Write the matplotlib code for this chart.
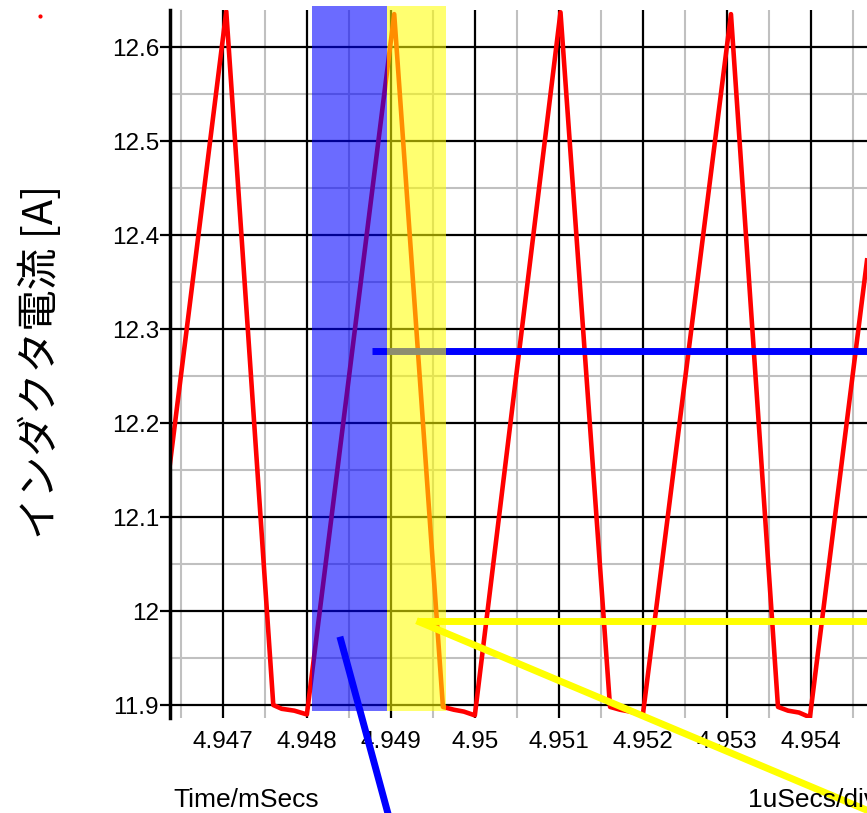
import matplotlib.pyplot as plt
from matplotlib.lines import Line2D

# 波形の折れ点 (Time/mSecs, A)
t_ms = [4.94637, 4.94704, 4.94760, 4.94770, 4.94785, 4.94800,
        4.94904, 4.94962, 4.94975, 4.94987, 4.95000,
        4.95102, 4.95161, 4.95173, 4.95185, 4.95200,
        4.95305, 4.95361, 4.95373, 4.95386, 4.95399, 4.95467]
i_L = [12.157, 12.638, 11.900, 11.896, 11.894, 11.890,
       12.635, 11.898, 11.895, 11.893, 11.889,
       12.637, 11.898, 11.895, 11.893, 11.889,
       12.635, 11.898, 11.894, 11.892, 11.887, 12.373]

x_ticks = [4.947, 4.948, 4.949, 4.950, 4.951, 4.952, 4.953, 4.954]
x_labels = ['4.947', '4.948', '4.949', '4.95', '4.951', '4.952', '4.953', '4.954']
x_minor = [4.9465, 4.9475, 4.9485, 4.9495, 4.9505, 4.9515, 4.9525, 4.9535, 4.9545]
y_ticks = [11.9, 12.0, 12.1, 12.2, 12.3, 12.4, 12.5, 12.6]
y_labels = ['11.9', '12', '12.1', '12.2', '12.3', '12.4', '12.5', '12.6']
y_minor = [11.95, 12.05, 12.15, 12.25, 12.35, 12.45, 12.55]

# 区間と注釈線
blue_span = (4.94806, 4.94895)
yellow_span = (4.94895, 4.94966)
blue_level = 12.2766
blue_level_start = 4.94877
yellow_level = 11.9897
yellow_level_start = 4.949306
blue_diag_t = [4.948393, 4.949019]
blue_diag_v = [11.9727, 11.767]
yellow_diag_t = [4.949306, 4.95506]
yellow_diag_v = [11.9897, 11.7734]

plt.rcParams['font.family'] = ['Liberation Sans', 'DejaVu Sans']

fig = plt.figure(figsize=(8.67, 8.13), dpi=100)
ax = fig.add_axes([170 / 867, 95 / 813, 697 / 867, 708 / 813])

ax.set_xlim(4.94637, 4.95467)
ax.set_ylim(11.8862, 12.6394)

# グリッド
for x in x_minor:
    ax.axvline(x, color='#c0c0c0', lw=1.5, zorder=1)
for y in y_minor:
    ax.axhline(y, color='#c0c0c0', lw=1.5, zorder=1)
for x in x_ticks:
    ax.axvline(x, color='black', lw=1.6, zorder=1.5)
for y in y_ticks:
    ax.axhline(y, color='black', lw=1.6, zorder=1.5)

ax.plot(t_ms, i_L, color='red', lw=3.3, zorder=3)

ax.plot([blue_level_start, 4.9550], [blue_level, blue_level],
        color='blue', lw=5, solid_capstyle='butt', zorder=4)

ax.axvspan(*blue_span, ymin=0.0099, ymax=1.0056, color='blue',
           alpha=0.58, lw=0, clip_on=False, zorder=5)
ax.axvspan(*yellow_span, ymin=0.0099, ymax=1.0056, color='yellow',
           alpha=0.56, lw=0, clip_on=False, zorder=5)

ax.plot(blue_diag_t, blue_diag_v, color='blue', lw=5,
        solid_capstyle='butt', clip_on=False, zorder=6)
ax.plot([yellow_level_start, 4.9550], [yellow_level, yellow_level],
        color='yellow', lw=5, solid_capstyle='butt', zorder=6)
ax.plot(yellow_diag_t, yellow_diag_v, color='yellow', lw=5,
        solid_capstyle='butt', clip_on=False, zorder=6)

ax.set_xticks(x_ticks)
ax.set_xticklabels(x_labels, fontsize=17.5)
ax.set_yticks(y_ticks)
ax.set_yticklabels(y_labels, fontsize=17.5)
ax.tick_params(axis='x', length=0, pad=9)
ax.tick_params(axis='y', length=7, width=1.6, pad=1)

for s in ['top', 'right', 'bottom']:
    ax.spines[s].set_visible(False)
ax.spines['left'].set_linewidth(2.5)
ax.spines['left'].set_zorder(7)

fig.text(40 / 867, 0.555, 'インダクタ電流 [A]', rotation=90, ha='center',
         va='center', fontsize=30, family=['Noto Sans CJK JP', 'DejaVu Sans'])
fig.text(173 / 867, 6 / 813, 'Time/mSecs', fontsize=19, va='baseline')
fig.text(748 / 867, 6 / 813, '1uSecs/div', fontsize=19, va='baseline')

fig.add_artist(Line2D([40 / 867], [1 - 16 / 813], marker='o', markersize=2,
                      color='red', transform=fig.transFigure))

plt.savefig('out.png', dpi=100)
